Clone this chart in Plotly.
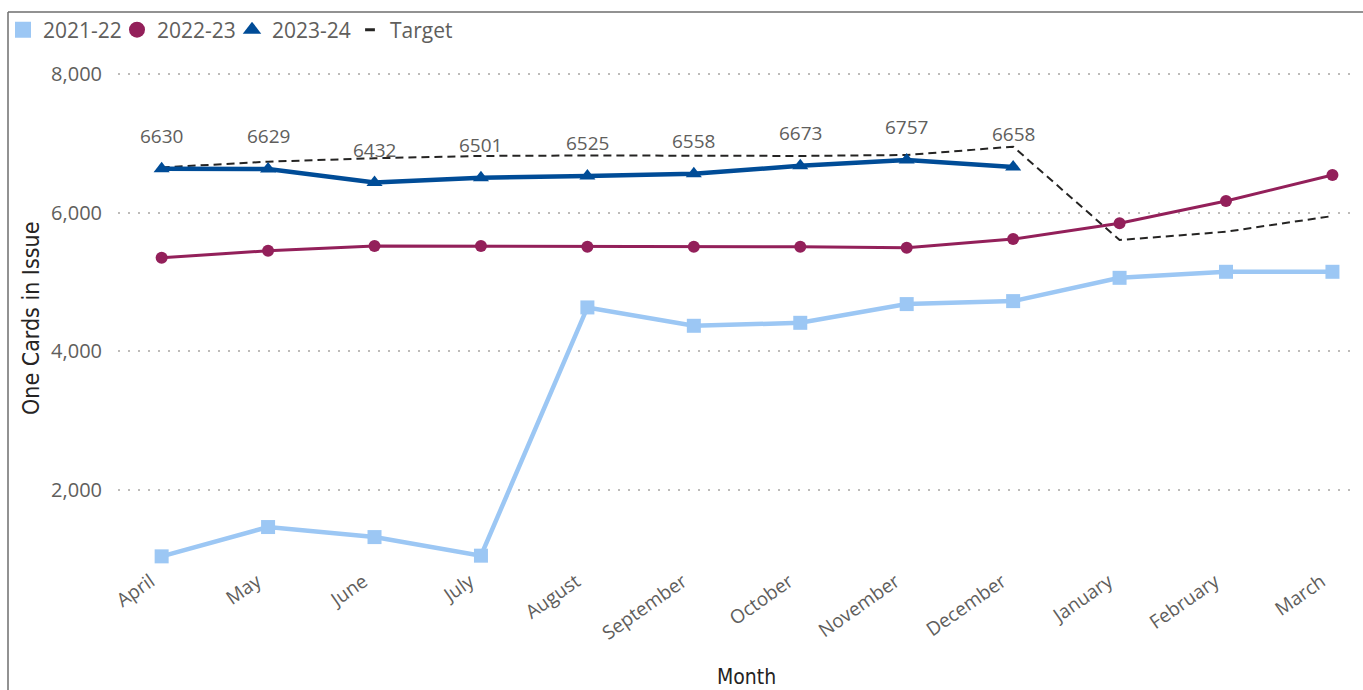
import plotly.graph_objects as go

months = ["April", "May", "June", "July", "August", "September", "October",
          "November", "December", "January", "February", "March"]

fy_2021_22 = [1040, 1463, 1318, 1050, 4631, 4366, 4409, 4679, 4722, 5058, 5145, 5145]
fy_2022_23 = [5347, 5448, 5516, 5516, 5506, 5506, 5506, 5492, 5617, 5844, 6166, 6541]
fy_2023_24 = [6630, 6629, 6432, 6501, 6525, 6558, 6673, 6757, 6658]
target = [6650, 6733, 6783, 6816, 6823, 6816, 6816, 6830, 6950, 5603, 5723, 5949]

C1 = "#9CC7F4"
C2 = "#93205A"
C3 = "#004C97"
CT = "#252423"
GRAY = "#605E5C"
TITLE_FONT = "Liberation Sans Narrow, DejaVu Sans Condensed, Roboto, sans-serif"
BODY_FONT = "Open Sans, Noto Sans, sans-serif"

W, H = 1363, 690
ML, MR, MT, MB = 118, 5, 60, 124
PW, PH = W - ML - MR, H - MT - MB

def px_x(p):
    return (p - ML) / PW

def px_y(p):
    return (H - MB - p) / PH

fig = go.Figure()

fig.add_trace(go.Scatter(x=months, y=fy_2021_22, mode="lines+markers", name="2021-22",
                         line=dict(color=C1, width=4.5),
                         marker=dict(symbol="square", size=14, color=C1),
                         showlegend=False))
fig.add_trace(go.Scatter(x=months, y=fy_2022_23, mode="lines+markers", name="2022-23",
                         line=dict(color=C2, width=3),
                         marker=dict(symbol="circle", size=12, color=C2),
                         showlegend=False))
fig.add_trace(go.Scatter(x=months, y=target, mode="lines", name="Target",
                         line=dict(color=CT, width=2, dash="8px,5px"),
                         showlegend=False))
fig.add_trace(go.Scatter(x=months[:len(fy_2023_24)], y=fy_2023_24, mode="lines+markers",
                         name="2023-24",
                         line=dict(color=C3, width=4.5),
                         marker=dict(symbol="triangle-up", size=14, color=C3),
                         showlegend=False))

# legend-only entries (markers like the reference legend), one legend each for placement
legend_items = [("2021-22", "square", C1, 16, {}, "legend", 3),
                ("2022-23", "circle", C2, 16, {}, "legend2", 117),
                ("2023-24", "triangle-up", C3, 16, {}, "legend3", 232),
                ("Target", "line-ew", CT, 7, dict(line=dict(color=CT, width=3)), "legend4", 350)]
legend_layouts = {}
for name, sym, col, size, extra, lg, lx in legend_items:
    fig.add_trace(go.Scatter(x=[None], y=[None], mode="markers", name=name, legend=lg,
                             marker=dict(symbol=sym, color=col, size=size, **extra),
                             showlegend=True))
    legend_layouts[lg] = dict(orientation="h", x=px_x(lx), y=px_y(30), xanchor="left", yanchor="middle",
                              font=dict(family=BODY_FONT, size=21, color=GRAY), itemwidth=30,
                              bgcolor="rgba(0,0,0,0)")

annotations = []
for m, v in zip(months, fy_2023_24):
    annotations.append(dict(x=m, y=v, xref="x", yref="y", text=str(v), showarrow=False,
                            yshift=33, font=dict(family=BODY_FONT, size=19, color=GRAY)))

annotations.append(dict(text="Month", xref="paper", yref="paper", x=px_x(747), y=px_y(677),
                        xanchor="center", yanchor="middle", showarrow=False,
                        font=dict(family=TITLE_FONT, size=21, color=CT)))
annotations.append(dict(text="One Cards in Issue", xref="paper", yref="paper", x=px_x(31), y=px_y(319),
                        xanchor="center", yanchor="middle", textangle=-90, showarrow=False,
                        font=dict(family=TITLE_FONT, size=23, color=CT)))

shapes = [
    dict(type="line", xref="paper", yref="paper", x0=px_x(8), x1=px_x(8), y0=px_y(12), y1=px_y(700),
         line=dict(color="#6E6E6E", width=1.5)),
    dict(type="line", xref="paper", yref="paper", x0=px_x(8), x1=px_x(1370), y0=px_y(12), y1=px_y(12),
         line=dict(color="#6E6E6E", width=1.5)),
]

fig.update_layout(
    width=W, height=H,
    margin=dict(l=ML, r=MR, t=MT, b=MB, autoexpand=False),
    paper_bgcolor="white", plot_bgcolor="white",
    font=dict(family=BODY_FONT, color=GRAY),
    annotations=annotations,
    shapes=shapes,
    xaxis=dict(type="category", range=[-0.41, 11.24], showgrid=False, zeroline=False,
               showline=False, ticks="", tickangle=-35, ticklabelshift=-11,
               tickfont=dict(size=19, color=GRAY)),
    yaxis=dict(range=[901, 8200], tickvals=[2000, 4000, 6000, 8000], tickformat=",",
               showgrid=True, gridcolor="#BDBBB9", griddash="2px,8px", gridwidth=1.5,
               zeroline=False, showline=False, ticks="", ticklabelstandoff=15,
               tickfont=dict(size=20, color=GRAY)),
    **legend_layouts,
)

fig.write_html("out.html", config={"displayModeBar": False},
               post_script="document.body.style.margin='0';document.body.style.overflow='hidden';")
